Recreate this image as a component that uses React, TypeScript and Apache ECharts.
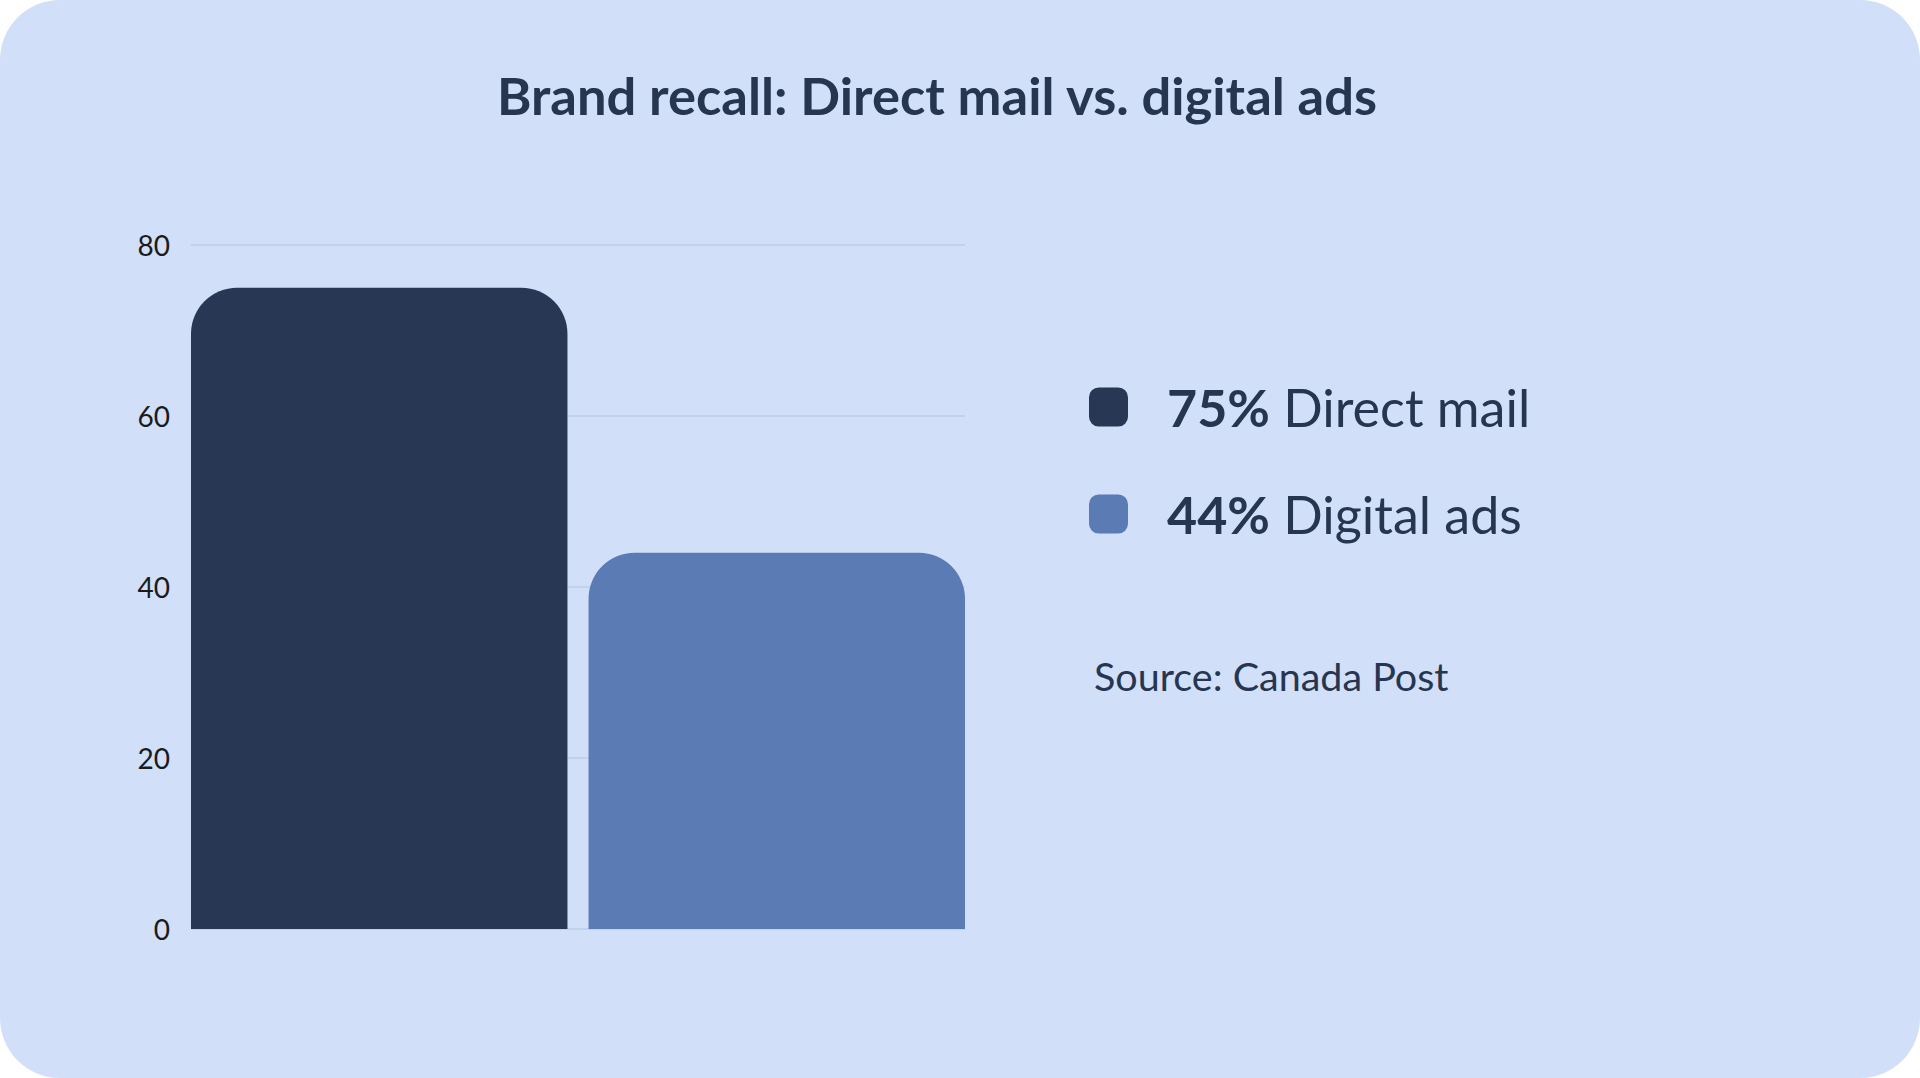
import React, { useEffect, useRef } from 'react';
import * as echarts from 'echarts';

// data
const categories = [''];
const seriesNames = ['Direct mail', 'Digital ads'];
const seriesValues = [75, 44];
const seriesColors = ['#283754', '#5b7bb5'];
const yTicks = [0, 20, 40, 60, 80];

const TITLE = 'Brand recall: Direct mail vs. digital ads';
const SOURCE = 'Source: Canada Post';
const TEXT = '#263550';

const App: React.FC = () => {
    const chartRef: any = useRef(null);

    useEffect(() => {
        const chart = echarts.init(chartRef.current, null, { renderer: 'svg' });
        const option = {
            animation: false,
            backgroundColor: 'transparent',
            textStyle: { fontFamily: 'Lato' },
            title: {
                text: TITLE,
                left: 497,
                top: 68,
                padding: 0,
                textStyle: { fontFamily: 'Lato', fontWeight: 'bold', fontSize: 52.5, color: TEXT }
            },
            grid: { left: 191, right: 955, top: 245, bottom: 149 },
            xAxis: {
                type: 'category',
                data: categories,
                show: false
            },
            yAxis: {
                type: 'value',
                min: yTicks[0],
                max: yTicks[yTicks.length - 1],
                interval: 20,
                axisLine: { show: false },
                axisTick: { show: false },
                axisLabel: { fontSize: 28, color: '#1b1b1b', margin: 21, fontFamily: 'Lato' },
                splitLine: { lineStyle: { color: '#bccde9', width: 1.5 } }
            },
            legend: {
                data: seriesNames,
                orient: 'vertical',
                left: 1089,
                top: 381,
                padding: 0,
                itemWidth: 39,
                itemHeight: 39,
                itemGap: 55,
                icon: 'roundRect',
                formatter: (name: string) => {
                    const i = seriesNames.indexOf(name);
                    return '{b|' + seriesValues[i] + '%}{r| ' + name + '}';
                },
                textStyle: {
                    padding: [0, 0, 0, 34],
                    rich: {
                        b: { fontFamily: 'Lato', fontWeight: 'bold', fontSize: 52, color: TEXT },
                        r: { fontFamily: 'Lato', fontSize: 52, color: TEXT }
                    }
                }
            },
            graphic: [
                {
                    type: 'text',
                    left: 1094,
                    top: 655,
                    style: { text: SOURCE, fontFamily: 'Lato', fontSize: 39.5, fill: TEXT }
                }
            ],
            series: seriesNames.map((name, i) => ({
                name,
                type: 'bar',
                data: [seriesValues[i]],
                barCategoryGap: '0%',
                barGap: '5.6%',
                itemStyle: { color: seriesColors[i], borderRadius: [46, 46, 0, 0] }
            }))
        };
        chart.setOption(option);
        return () => {
            chart.dispose();
        };
    }, []);

    return (
        <div style={{ position: 'absolute', left: 0, top: 0, width: 1920, height: 1078, background: '#ffffff' }}>
            <div
                ref={chartRef}
                style={{ width: 1920, height: 1078, background: '#d1dff8', borderRadius: 60, overflow: 'hidden' }}
            ></div>
        </div>
    );
};

export default App;
